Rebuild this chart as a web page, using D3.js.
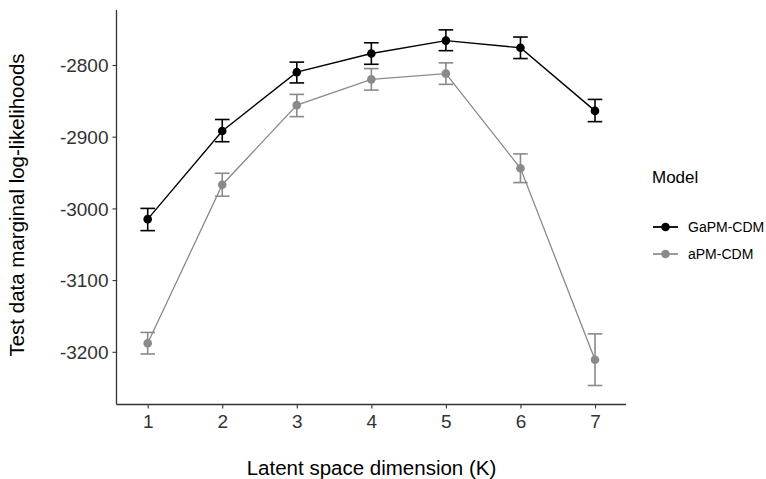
<!DOCTYPE html>
<html><head><meta charset="utf-8">
<script src="https://cdn.jsdelivr.net/npm/d3@7/dist/d3.min.js"></script>
<style>body{margin:0;background:#fff}svg{display:block}text{font-family:"Liberation Sans",Arial,sans-serif}</style>
</head><body>
<svg id="c" width="766" height="479"></svg>
<script>
const dims = [1,2,3,4,5,6,7];
const seriesNames = ["GaPM-CDM","aPM-CDM"];
const seriesColors = ["#000000","#8a8a8a"];
const gapmMean = [-3015,-2892,-2810,-2784,-2766,-2776,-2864];
const gapmLow  = [-3031,-2907,-2825,-2799,-2780,-2791,-2879];
const gapmHigh = [-3000,-2876,-2796,-2769,-2751,-2761,-2848];
const apmMean  = [-3188,-2967,-2856,-2820,-2812,-2944,-3211];
const apmLow   = [-3203,-2983,-2872,-2835,-2827,-2964,-3247];
const apmHigh  = [-3173,-2951,-2841,-2805,-2797,-2924,-3175];
const yTicks = [-2800,-2900,-3000,-3100,-3200];

(function(){
const svg = d3.select("#c");
const x = d3.scaleLinear().domain([1,7]).range([147.7,595]);
const y = d3.scaleLinear().domain([-2800,-3200]).range([65,351.8]);
const pLeft = 116.5, pRight = 626, pTop = 10, pBottom = 404.5;

const series = [
  {name: seriesNames[0], color: seriesColors[0], mean: gapmMean, lo: gapmLow, hi: gapmHigh, lw: 1.4},
  {name: seriesNames[1], color: seriesColors[1], mean: apmMean, lo: apmLow, hi: apmHigh, lw: 1.3}
];

const yAxis = d3.axisLeft(y).tickValues(yTicks).tickSize(4).tickPadding(4).tickFormat(d => String(d));
const gy = svg.append("g").attr("transform",`translate(${pLeft},0)`).call(yAxis);
gy.select(".domain").remove();
gy.selectAll(".tick line").attr("stroke","#333").attr("stroke-width",1.1);
gy.selectAll(".tick text").attr("fill","#333").style("font-size","19px").attr("dy","0.35em");

const xAxis = d3.axisBottom(x).tickValues(dims).tickSize(4).tickPadding(4).tickFormat(d => String(d));
const gx = svg.append("g").attr("transform",`translate(0,${pBottom})`).call(xAxis);
gx.select(".domain").remove();
gx.selectAll(".tick line").attr("stroke","#333").attr("stroke-width",1.1);
gx.selectAll(".tick text").attr("fill","#333").style("font-size","19px").attr("y",null).attr("dy",null).attr("transform","translate(0,23.3)");

svg.append("line").attr("x1",pLeft).attr("x2",pLeft).attr("y1",pTop).attr("y2",pBottom).attr("stroke","#333").attr("stroke-width",1.3);
svg.append("line").attr("x1",pLeft).attr("x2",pRight).attr("y1",pBottom).attr("y2",pBottom).attr("stroke","#333").attr("stroke-width",1.3);

const line = d3.line().x((d,i)=>x(dims[i])).y(d=>y(d));
series.slice().reverse().forEach(s=>{
  const g = svg.append("g");
  g.append("path").attr("d",line(s.mean)).attr("fill","none").attr("stroke",s.color).attr("stroke-width",s.lw);
  dims.forEach((k,i)=>{
    const cx = x(k);
    g.append("line").attr("x1",cx).attr("x2",cx).attr("y1",y(s.lo[i])).attr("y2",y(s.hi[i])).attr("stroke",s.color).attr("stroke-width",1.6);
    g.append("line").attr("x1",cx-7.3).attr("x2",cx+7.3).attr("y1",y(s.lo[i])).attr("y2",y(s.lo[i])).attr("stroke",s.color).attr("stroke-width",1.6);
    g.append("line").attr("x1",cx-7.3).attr("x2",cx+7.3).attr("y1",y(s.hi[i])).attr("y2",y(s.hi[i])).attr("stroke",s.color).attr("stroke-width",1.6);
    g.append("circle").attr("cx",cx).attr("cy",y(s.mean[i])).attr("r",4.3).attr("fill",s.color);
  });
});

svg.append("text").attr("x",371.5).attr("y",475).attr("text-anchor","middle").style("font-size","20.5px").attr("fill","#000").text("Latent space dimension (K)");
svg.append("text").attr("transform","translate(24,205) rotate(-90)").attr("text-anchor","middle").style("font-size","20.5px").attr("fill","#000").text("Test data marginal log-likelihoods");

svg.append("text").attr("x",652).attr("y",183).style("font-size","17px").attr("fill","#000").text("Model");
series.forEach((s,i)=>{
  const ly = 227 + i*27;
  svg.append("line").attr("x1",653).attr("x2",678).attr("y1",ly).attr("y2",ly).attr("stroke",s.color).attr("stroke-width",s.lw+0.4);
  svg.append("circle").attr("cx",665.5).attr("cy",ly).attr("r",4.3).attr("fill",s.color);
  svg.append("text").attr("x",688).attr("y",ly).attr("dy","0.35em").style("font-size","14px").attr("fill","#000").text(s.name);
});
})();
</script>
</body></html>
